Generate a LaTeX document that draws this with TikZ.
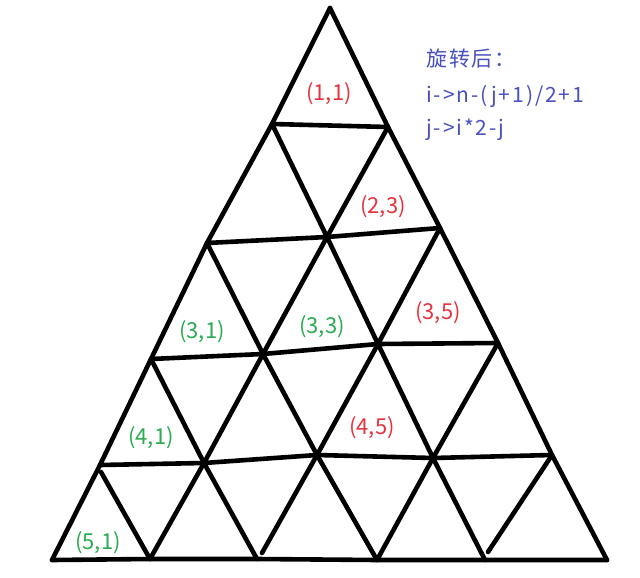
\documentclass[tikz,border=0pt]{standalone}
\usepackage{fontspec}
\setmainfont{Noto Sans CJK SC}
\definecolor{lred}{RGB}{228,52,64}
\definecolor{lgreen}{RGB}{44,170,82}
\definecolor{lblue}{RGB}{74,80,190}
\begin{document}
\begin{tikzpicture}[x=1pt,y=-1pt,
  edge/.style={line width=4.6pt, line cap=round, line join=round},
  lbl/.style={inner sep=0pt, font=\fontsize{22}{26}\selectfont},
  redlbl/.style={lbl, text=lred},
  greenlbl/.style={lbl, text=lgreen},
  note/.style={inner sep=0pt, anchor=west, text=lblue, font=\fontsize{21}{25}\selectfont\addfontfeature{LetterSpace=9}}]
\useasboundingbox[fill=white] (0,0) rectangle (640,578);
% lattice points
\coordinate (p00) at (330,8);
\coordinate (p10) at (272,124); \coordinate (p11) at (388,127);
\coordinate (p20) at (207,243); \coordinate (p21) at (327,237); \coordinate (p22) at (440,228);
\coordinate (p30) at (151,359); \coordinate (p31) at (263,354); \coordinate (p32) at (378,344); \coordinate (p33) at (498,343);
\coordinate (p40) at (100,465); \coordinate (p41) at (204,463); \coordinate (p42) at (317,455); \coordinate (p43) at (433,458); \coordinate (p44) at (552,455);
\coordinate (p50) at (52,560); \coordinate (p51) at (150,559); \coordinate (p52) at (257,559); \coordinate (p53) at (377,560); \coordinate (p54) at (485,560); \coordinate (p55) at (607,560);
% short ends
\coordinate (s40) at (101,472);
\coordinate (s52) at (262,553);
\coordinate (s54) at (488,552);
% horizontal lines
\draw[edge] (p10) -- (p11);
\draw[edge] (p20) -- (p21) -- (p22);
\draw[edge] (p30) -- (p31) -- (p32) -- (p33);
\draw[edge] (p40) -- (p41) -- (p42) -- (p43) -- (p44);
\draw[edge] (p50) -- (p51) -- (p52) -- (p53) -- (p54) -- (p55);
% outer edges
\draw[edge] (p00) -- (p10) -- (p20) -- (p30) -- (p40) -- (p50);
\draw[edge] (p00) -- (p11) -- (p22) -- (p33) -- (p44) -- (p55);
% down-right lines
\draw[edge] (p10) -- (p21) -- (p32) -- (p43) -- (p54);
\draw[edge] (p20) -- (p31) -- (p42) -- (p53);
\draw[edge] (p30) -- (p41) -- (p52);
\draw[edge] (s40) -- (p51);
% down-left lines
\draw[edge] (p11) -- (p21) -- (p31) -- (p41) -- (p51);
\draw[edge] (p22) -- (p32) -- (p42) -- (s52);
\draw[edge] (p33) -- (p43) -- (p53);
\draw[edge] (p44) -- (s54);
% labels
\node[redlbl] (l11) at (329,94) {(1,1)};
\node[redlbl] (l23) at (383,207) {(2,3)};
\node[greenlbl] (l31) at (202,332) {(3,1)};
\node[greenlbl] (l33) at (322,327) {(3,3)};
\node[redlbl] (l35) at (438,313) {(3,5)};
\node[greenlbl] (l41) at (151,438) {(4,1)};
\node[redlbl] (l45) at (372,428) {(4,5)};
\node[greenlbl] (l51) at (98,543) {(5,1)};
% note
\node[note] (n1) at (426,59) {旋转后：};
\node[note] (n2) at (426,96) {i->n-(j+1)/2+1};
\node[note] (n3) at (426,130) {j->i*2-j};
\end{tikzpicture}
\end{document}
